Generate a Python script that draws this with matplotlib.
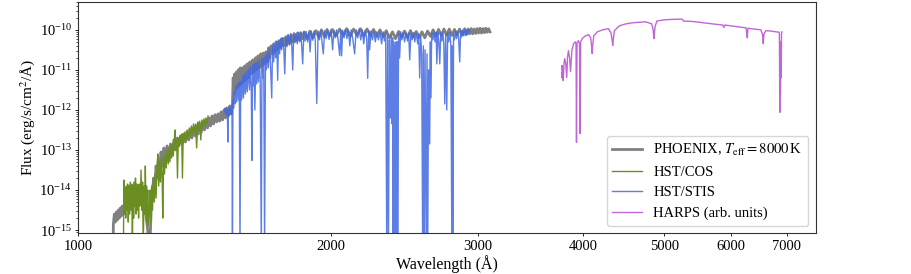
import matplotlib
matplotlib.use("Agg")
import matplotlib.pyplot as plt
from matplotlib.ticker import LogLocator, NullLocator, NullFormatter
import numpy as np

plt.rcParams['font.family'] = ['Liberation Serif', 'DejaVu Serif']
plt.rcParams['mathtext.fontset'] = 'stix'

# spectra: (wavelength in A, log10 flux in erg/s/cm2/A)
phoenix_pts = [
    (1100, -15.5), (1101, -14.85), (1104, -14.6), (1107, -14.8), (1110, -14.55), (1113, -14.75),
    (1116, -14.5), (1119, -14.7), (1122, -14.45), (1125, -14.65), (1128, -14.4), (1131, -14.6),
    (1137, -14.4), (1142, -14.1), (1147, -14.5), (1152, -14.0), (1158, -14.4), (1164, -13.9),
    (1170, -14.3), (1176, -13.9), (1182, -14.3), (1188, -14.0), (1194, -14.5), (1200, -14.1),
    (1205, -14.7), (1210, -15.0), (1213, -15.5), (1216, -15.5), (1219, -15.0), (1222, -14.4),
    (1226, -14.0), (1230, -13.7), (1234, -13.9), (1238, -13.4), (1242, -13.7), (1246, -13.2),
    (1250, -13.5), (1255, -13.05), (1260, -13.4), (1265, -12.95), (1270, -13.3), (1276, -12.9),
    (1282, -13.2), (1288, -12.85), (1294, -13.1), (1300, -12.75), (1306, -13.0), (1312, -12.7),
    (1318, -12.9), (1324, -12.65), (1330, -12.85), (1336, -12.6), (1342, -12.8), (1348, -12.55),
    (1354, -12.75), (1360, -12.5), (1366, -12.7), (1372, -12.45), (1378, -12.65), (1384, -12.4),
    (1390, -12.6), (1396, -12.35), (1402, -12.55), (1408, -12.3), (1414, -12.5), (1420, -12.25),
    (1426, -12.45), (1432, -12.2), (1438, -12.4), (1444, -12.15), (1450, -12.35), (1456, -12.12),
    (1462, -12.3), (1468, -12.1), (1474, -12.28), (1480, -12.05), (1486, -12.25), (1492, -12.0),
    (1498, -12.2), (1504, -11.95), (1510, -12.15), (1516, -11.9), (1522, -12.1), (1527, -11.85),
    (1530, -11.2), (1533, -11.6), (1536, -11.1), (1540, -11.5), (1544, -11.05), (1548, -11.45),
    (1552, -11.0), (1556, -11.4), (1560, -10.95), (1565, -11.35), (1570, -10.95), (1575, -11.3),
    (1580, -10.9), (1585, -11.25), (1590, -10.85), (1596, -11.2), (1602, -10.8), (1608, -11.1),
    (1614, -10.75), (1620, -11.05), (1626, -10.7), (1632, -11.0), (1638, -10.65), (1644, -10.95),
    (1650, -10.6), (1656, -10.9), (1662, -10.58), (1668, -10.85), (1674, -10.55), (1680, -10.8),
    (1686, -10.45), (1692, -10.7), (1698, -10.4), (1704, -10.6), (1710, -10.35), (1716, -10.55),
    (1722, -10.3), (1728, -10.5), (1735, -10.27), (1742, -10.45), (1749, -10.22), (1756, -10.4),
    (1763, -10.2), (1770, -10.38), (1778, -10.15), (1786, -10.35), (1794, -10.12), (1802, -10.3),
    (1810, -10.1), (1818, -10.28), (1826, -10.08), (1834, -10.25), (1842, -10.07), (1850, -10.22),
    (1860, -10.05), (1875, -10.22), (1890, -10.03), (1905, -10.2), (1920, -10.02), (1935, -10.18),
    (1950, -10.0), (1965, -10.17), (1980, -9.99), (1995, -10.15), (2010, -9.99), (2030, -10.15),
    (2050, -9.98), (2070, -10.14), (2090, -9.97), (2110, -10.16), (2130, -9.98), (2150, -10.13),
    (2170, -9.97), (2190, -10.15), (2210, -9.98), (2230, -10.14), (2250, -9.99), (2270, -10.16),
    (2290, -10.0), (2310, -10.17), (2330, -10.02), (2350, -10.2), (2370, -10.05), (2390, -10.22),
    (2410, -10.04), (2430, -10.18), (2450, -10.03), (2470, -10.19), (2490, -10.02), (2510, -10.17),
    (2530, -10.04), (2550, -10.2), (2570, -10.05), (2590, -10.2), (2610, -10.03), (2630, -10.16),
    (2650, -10.0), (2670, -10.15), (2690, -9.99), (2710, -10.14), (2730, -9.98), (2750, -10.13),
    (2770, -9.98), (2790, -10.14), (2810, -9.99), (2830, -10.12), (2850, -9.98), (2870, -10.12),
    (2890, -9.97), (2905, -10.11), (2918, -9.98), (2930, -10.1), (2942, -9.97), (2954, -10.1),
    (2966, -9.98), (2978, -10.09), (2990, -9.97), (3002, -10.08), (3014, -9.96), (3026, -10.08),
    (3038, -9.97), (3050, -10.07), (3062, -9.96), (3074, -10.06), (3086, -9.97), (3098, -10.05),
]

cos_pts = [
    (1132, -15.5), (1133, -13.75), (1135, -14.6), (1137, -13.95), (1139, -14.7), (1141, -13.9),
    (1143, -14.5), (1145, -13.85), (1147, -14.8), (1149, -13.9), (1151, -14.6), (1153, -13.8),
    (1156, -14.5), (1158, -13.85), (1160, -15.5), (1162, -13.9), (1164, -14.7), (1166, -13.8),
    (1168, -14.4), (1170, -13.7), (1172, -14.6), (1174, -13.85), (1176, -14.5), (1178, -13.95),
    (1180, -14.7), (1182, -13.85), (1185, -14.4), (1188, -13.5), (1190, -14.5), (1193, -13.8),
    (1195, -15.5), (1198, -13.9), (1200, -14.6), (1202, -13.4), (1204, -14.5), (1206, -13.9),
    (1208, -14.8), (1210, -14.0), (1212, -14.9), (1215, -14.6), (1218, -14.0), (1220, -14.8),
    (1223, -13.9), (1226, -14.5), (1229, -13.7), (1232, -14.3), (1235, -13.6), (1238, -14.2),
    (1241, -13.5), (1244, -13.1), (1247, -13.9), (1250, -13.3), (1253, -13.8), (1256, -13.2),
    (1259, -13.7), (1261, -14.7), (1264, -13.2), (1267, -13.6), (1270, -13.1), (1273, -13.45),
    (1276, -13.0), (1280, -13.35), (1283, -12.95), (1286, -13.3), (1289, -12.9), (1292, -13.2),
    (1295, -12.85), (1298, -13.15), (1301, -12.8), (1304, -12.5), (1307, -13.0), (1310, -12.75),
    (1313, -13.7), (1316, -12.7), (1319, -12.9), (1322, -12.65), (1325, -12.85), (1328, -12.6),
    (1331, -13.7), (1334, -12.6), (1337, -12.8), (1340, -12.55), (1344, -12.75), (1348, -12.5),
    (1352, -12.7), (1356, -12.45), (1360, -12.65), (1364, -12.4), (1368, -12.6), (1372, -12.35),
    (1376, -12.55), (1380, -12.35), (1384, -12.95), (1388, -12.3), (1392, -12.5), (1396, -12.28),
    (1400, -12.75), (1404, -12.25), (1408, -12.45), (1412, -12.22), (1416, -12.4), (1420, -12.2),
    (1424, -12.35), (1428, -12.15),
]

stis_pts = [
    (1494, -12.05), (1497, -11.95), (1500, -12.12), (1503, -11.98), (1506, -12.10), (1508, -12.80),
    (1510, -12.0), (1513, -11.93), (1516, -12.12), (1519, -11.96), (1522, -12.08), (1525, -11.90),
    (1527, -15.5), (1529, -11.75), (1532, -11.95), (1535, -11.55), (1538, -11.85), (1541, -11.40),
    (1545, -11.80), (1549, -11.35), (1553, -11.75), (1556, -11.30), (1559, -15.5), (1562, -11.28),
    (1566, -11.75), (1570, -11.15), (1574, -11.70), (1578, -11.10), (1582, -11.60), (1586, -11.05),
    (1590, -11.55), (1595, -10.98), (1600, -11.50), (1604, -10.92), (1608, -11.45), (1611, -13.26),
    (1614, -10.88), (1618, -11.40), (1621, -10.85), (1624, -12.00), (1628, -10.82), (1632, -11.35),
    (1636, -10.80), (1640, -11.30), (1644, -10.75), (1648, -11.25), (1653, -15.5), (1656, -10.72),
    (1660, -11.20), (1664, -10.70), (1668, -15.5), (1672, -10.65), (1676, -11.00), (1680, -10.55),
    (1685, -10.95), (1690, -10.45), (1695, -10.85), (1701, -11.70), (1705, -10.40), (1710, -10.80),
    (1715, -10.35), (1720, -10.70), (1725, -10.30), (1729, -11.26), (1733, -10.28), (1738, -10.60),
    (1743, -10.22), (1748, -10.50), (1753, -10.20), (1758, -10.45), (1763, -11.10), (1768, -10.15),
    (1774, -10.42), (1780, -10.12), (1786, -10.38), (1792, -10.10), (1797, -10.35), (1802, -11.00),
    (1807, -10.08), (1813, -10.32), (1819, -10.10), (1825, -10.35), (1831, -10.06), (1837, -10.30),
    (1843, -10.08), (1852, -10.85), (1858, -10.05), (1864, -10.28), (1870, -10.04), (1877, -10.30),
    (1884, -10.05), (1890, -10.55), (1896, -10.04), (1903, -10.26), (1910, -10.03), (1917, -10.25),
    (1925, -11.84), (1932, -10.03), (1939, -10.25), (1946, -10.02), (1953, -10.30), (1960, -10.60),
    (1967, -10.02), (1975, -10.22), (1983, -10.01), (1991, -10.24), (2000, -10.00), (2006, -10.22),
    (2011, -10.50), (2017, -10.02), (2025, -10.20), (2033, -10.00), (2041, -10.25), (2050, -10.64),
    (2056, -10.02), (2061, -10.65), (2067, -10.01), (2075, -10.20), (2083, -9.99), (2091, -10.22),
    (2100, -10.00), (2108, -10.40), (2116, -10.00), (2125, -10.22), (2136, -10.60), (2145, -10.00),
    (2154, -10.20), (2163, -9.99), (2172, -10.25), (2181, -10.00), (2190, -10.35), (2199, -10.01),
    (2208, -10.22), (2214, -11.21), (2220, -10.02), (2226, -10.50), (2234, -10.03), (2243, -10.25),
    (2252, -10.04), (2261, -10.30), (2270, -10.05), (2280, -10.25), (2290, -10.06), (2300, -10.35),
    (2310, -10.05), (2318, -10.28), (2326, -10.08), (2333, -15.5), (2338, -10.15), (2344, -15.5),
    (2350, -10.25), (2356, -12.2), (2362, -10.15), (2367, -12.35), (2371, -10.2), (2374, -15.5),
    (2378, -10.3), (2382, -15.5), (2387, -10.4), (2390, -15.5), (2394, -10.3), (2397, -15.5),
    (2401, -10.3), (2404, -15.5), (2410, -10.10), (2417, -10.70), (2424, -10.05), (2432, -10.25),
    (2440, -10.06), (2450, -10.30), (2460, -10.07), (2470, -10.28), (2478, -10.08), (2485, -10.75),
    (2493, -10.08), (2502, -10.25), (2511, -10.07), (2520, -10.30), (2530, -10.08), (2540, -10.35),
    (2547, -10.10), (2554, -11.20), (2561, -10.15), (2568, -10.60), (2575, -15.5), (2580, -10.4),
    (2586, -15.5), (2592, -10.5), (2600, -15.5), (2606, -10.6), (2611, -15.5), (2617, -11.0),
    (2625, -12.85), (2630, -10.3), (2632, -11.70), (2640, -10.08), (2648, -10.25), (2656, -10.05),
    (2664, -10.30), (2672, -10.07), (2677, -10.85), (2685, -10.08), (2692, -10.30), (2699, -10.85),
    (2706, -10.07), (2714, -10.28), (2722, -10.08), (2729, -10.35), (2736, -11.85), (2743, -10.10),
    (2751, -12.0), (2758, -10.08), (2766, -10.30), (2774, -10.06), (2782, -10.35), (2790, -15.5),
    (2793, -10.4), (2797, -15.5), (2803, -10.10), (2810, -10.25), (2818, -10.04), (2826, -10.22),
    (2834, -10.03), (2842, -10.20), (2851, -10.80), (2858, -10.02), (2866, -10.18), (2874, -10.01),
    (2882, -10.15), (2890, -10.00), (2898, -10.15), (2906, -10.00), (2914, -10.12), (2922, -9.99),
    (2931, -10.05),
]

harps_pts = [
    (3772, -11.07), (3774, -11.20), (3776, -10.89), (3782, -10.98), (3789, -11.27), (3796, -10.85),
    (3804, -10.72), (3815, -10.85), (3825, -11.19), (3833, -10.70), (3843, -10.52), (3855, -10.70),
    (3865, -11.04), (3880, -10.50), (3899, -10.34), (3915, -10.30), (3924, -10.35), (3929, -12.81),
    (3935, -10.32), (3950, -10.27), (3962, -10.35), (3968, -12.59), (3974, -10.30), (3990, -10.22),
    (4020, -10.16), (4060, -10.12), (4085, -10.20), (4098, -10.45), (4102, -10.59), (4106, -10.42),
    (4120, -10.15), (4160, -10.05), (4220, -10.00), (4290, -9.97), (4320, -10.08), (4336, -10.30),
    (4340, -10.39), (4344, -10.28), (4360, -10.02), (4420, -9.90), (4500, -9.85), (4600, -9.82),
    (4750, -9.80), (4830, -9.85), (4850, -10.00), (4858, -10.18), (4861, -10.22), (4864, -10.15),
    (4875, -9.92), (4900, -9.78), (5000, -9.75), (5100, -9.74), (5250, -9.73), (5270, -9.78),
    (5400, -9.79), (5550, -9.82), (5700, -9.85), (5870, -9.88), (5890, -9.94), (5905, -9.88),
    (6000, -9.90), (6150, -9.93), (6260, -9.95), (6276, -10.15), (6282, -10.20), (6292, -9.96),
    (6400, -9.98), (6520, -10.00), (6550, -10.12), (6563, -10.35), (6576, -10.10), (6610, -10.02),
    (6700, -10.03), (6800, -10.05), (6860, -10.06), (6868, -12.06), (6872, -10.30), (6880, -11.60),
    (6885, -10.40), (6895, -11.20), (6900, -10.10), (6908, -10.05),
]

x_ticks = [1000, 2000, 3000, 4000, 5000, 6000, 7000]
y_ticks = [1e-15, 1e-14, 1e-13, 1e-12, 1e-11, 1e-10]

series = [
    (phoenix_pts, 'gray', 2.0, 1.0, r'PHOENIX, $T_\mathrm{eff} = 8000\,$K'),
    (cos_pts, 'olivedrab', 1.0, 1.0, 'HST/COS'),
    (stis_pts, 'royalblue', 1.0, 0.85, 'HST/STIS'),
    (harps_pts, 'mediumorchid', 1.0, 0.9, 'HARPS (arb. units)'),
]

fig = plt.figure(figsize=(9.11, 2.74), dpi=100)
ax = fig.add_axes([0.086, 0.1485, 0.8094, 0.846])

for pts, col, lw, al, lab in series:
    wave = np.array([p[0] for p in pts])
    flux = 10.0 ** np.array([p[1] for p in pts])
    ax.plot(wave, flux, color=col, lw=lw, alpha=al, label=lab)

ax.set_xscale('log')
ax.set_yscale('log')
ax.set_xlim(1000, 7580)
ax.set_ylim(8.3e-16, 5.1e-10)

ax.set_xticks(x_ticks)
ax.set_xticklabels([str(t) for t in x_ticks])
ax.xaxis.set_minor_locator(NullLocator())
ax.set_yticks(y_ticks)
ax.yaxis.set_minor_locator(LogLocator(base=10, subs=np.arange(2, 10)))
ax.yaxis.set_minor_formatter(NullFormatter())
ax.tick_params(which='major', length=2.5, width=0.6, labelsize=10.5, pad=2)
ax.tick_params(which='minor', length=1.3, width=0.5)

for s in ax.spines.values():
    s.set_linewidth(0.8)
    s.set_color('#333333')

ax.set_xlabel('Wavelength (Å)', fontsize=11.5, labelpad=2)
ax.set_ylabel('Flux (erg/s/cm$^2$/Å)', fontsize=11, labelpad=2)

ax.legend(loc='lower right', fontsize=10.5, frameon=True, fancybox=True,
          edgecolor='#cccccc', handlelength=2.0, borderaxespad=0.5)

fig.savefig('out.png', dpi=100)
